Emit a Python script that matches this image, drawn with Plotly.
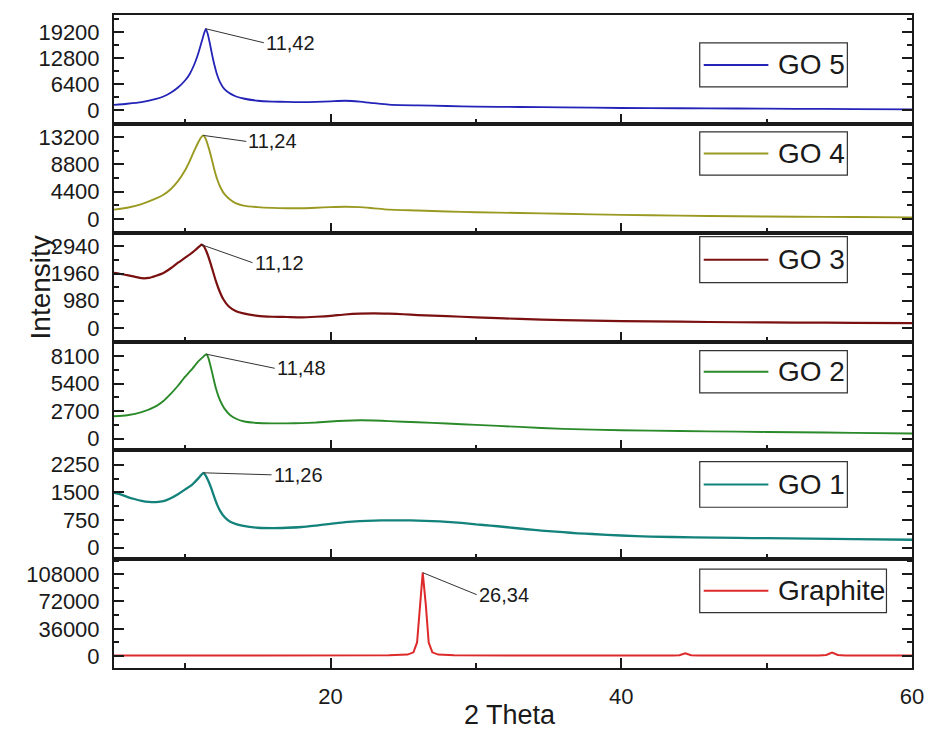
import plotly.graph_objects as go
from plotly.subplots import make_subplots

# ---- XRD patterns (2θ in degrees, intensity in counts) ----
go5_theta = [5.1, 6, 7, 8, 8.5, 9, 9.5, 10, 10.3, 10.6, 10.85, 11.1, 11.3, 11.42, 11.55, 11.7,
             11.85, 12.0, 12.2, 12.4, 12.7, 13.1, 13.5, 14, 15, 16, 17, 18, 19, 20, 21, 22, 23,
             24, 26, 28, 30, 33, 36, 40, 44, 48, 52, 56, 60]
go5_int = [1250, 1500, 1900, 2700, 3300, 4200, 5500, 7300, 8800, 11000, 13400, 16400, 18900,
           20000, 18700, 16300, 13600, 11200, 8600, 6800, 5100, 4000, 3300, 2800, 2250, 2050,
           1950, 1900, 1950, 2100, 2250, 2050, 1650, 1300, 1100, 950, 820, 700, 600, 460, 400,
           330, 260, 200, 120]

go4_theta = [5.1, 6, 7, 8, 8.5, 9, 9.5, 10, 10.3, 10.6, 10.9, 11.1, 11.24, 11.4, 11.6, 11.8,
             12.0, 12.2, 12.4, 12.7, 13.1, 13.5, 14, 15, 16, 17, 18, 19, 20, 21, 22, 23, 24, 26,
             28, 30, 33, 36, 40, 44, 48, 52, 56, 60]
go4_int = [1500, 1800, 2400, 3300, 3900, 4800, 6100, 7900, 9300, 10900, 12400, 13200, 13500,
           13000, 11600, 9900, 8000, 6400, 5200, 4000, 3100, 2500, 2150, 1900, 1780, 1730, 1730,
           1800, 1900, 1950, 1900, 1700, 1500, 1350, 1200, 1080, 950, 820, 650, 520, 420, 350,
           300, 250]

go3_theta = [5.1, 5.5, 6, 6.5, 7, 7.5, 8, 8.5, 9, 9.5, 10, 10.5, 10.8, 11.0, 11.12, 11.3, 11.5,
             11.7, 11.9, 12.1, 12.3, 12.6, 13.0, 13.5, 14, 15, 16, 17, 18, 19, 20, 21, 22, 23,
             24, 25, 26, 28, 30, 33, 36, 40, 44, 48, 52, 56, 60]
go3_int = [1980, 1950, 1900, 1850, 1790, 1800, 1880, 1980, 2150, 2350, 2530, 2720, 2860, 2950,
           3000, 2930, 2700, 2400, 2050, 1700, 1400, 1050, 770, 600, 520, 430, 400, 390, 380,
           400, 430, 480, 510, 520, 510, 490, 460, 420, 380, 320, 280, 240, 220, 200, 190, 180,
           170]

go2_theta = [5.1, 6, 7, 8, 8.5, 9, 9.5, 10, 10.5, 10.9, 11.2, 11.35, 11.48, 11.6, 11.75, 11.9,
             12.1, 12.3, 12.5, 12.7, 13.1, 13.5, 14, 15, 16, 17, 18, 19, 20, 21, 22, 23, 24, 26,
             28, 30, 33, 36, 40, 44, 48, 52, 56, 60]
go2_int = [2200, 2300, 2600, 3200, 3700, 4400, 5200, 6100, 6900, 7600, 8000, 8200, 8300, 7900,
           7100, 6200, 5000, 4100, 3450, 2950, 2300, 1950, 1700, 1530, 1500, 1500, 1520, 1580,
           1680, 1760, 1800, 1780, 1720, 1600, 1480, 1350, 1150, 950, 820, 740, 680, 620, 560,
           500]

go1_theta = [5.1, 5.5, 6, 6.5, 7, 7.5, 8, 8.5, 9, 9.5, 10, 10.5, 10.9, 11.1, 11.26, 11.4, 11.6,
             11.8, 12.0, 12.2, 12.4, 12.7, 13.1, 13.5, 14, 15, 16, 17, 18, 19, 20, 21, 22, 23,
             24, 25, 26, 27, 28, 29, 30, 31, 32, 33, 34, 35, 36, 37, 38, 40, 42, 45, 48, 50, 53,
             56, 60]
go1_int = [1490, 1450, 1380, 1320, 1270, 1240, 1235, 1260, 1340, 1450, 1580, 1720, 1880, 1970,
           2030, 1960, 1800, 1600, 1370, 1160, 1000, 830, 700, 640, 590, 540, 530, 540, 560, 600,
           645, 690, 720, 735, 740, 740, 735, 720, 700, 670, 630, 600, 560, 520, 480, 450, 420,
           390, 370, 330, 300, 280, 265, 258, 245, 230, 215]

gr_theta = [5.1, 10, 15, 20, 24, 25.3, 25.7, 25.95, 26.15, 26.34, 26.55, 26.75, 27.0, 27.4,
            28.5, 35, 43.5, 44.0, 44.4, 44.8, 45.3, 53.6, 54.1, 54.5, 54.9, 55.4, 60]
gr_int = [700, 700, 700, 750, 1000, 2000, 5000, 18000, 68000, 110000, 68000, 18000, 5000, 2000,
          1000, 700, 700, 1300, 3800, 1300, 700, 700, 1500, 4800, 1500, 700, 700]

# ---- panel settings, top to bottom ----
names = ["GO 5", "GO 4", "GO 3", "GO 2", "GO 1", "Graphite"]
thetas = [go5_theta, go4_theta, go3_theta, go2_theta, go1_theta, gr_theta]
intensities = [go5_int, go4_int, go3_int, go2_int, go1_int, gr_int]
colors = ["#2424b8", "#9a9a22", "#7a1010", "#2a8a2a", "#13827a", "#dd2a2a"]
line_widths = [1.8, 1.9, 2.2, 1.9, 2.3, 2.0]
smooth = [True, True, True, True, True, False]
y_ticks = [
    [0, 6400, 12800, 19200],
    [0, 4400, 8800, 13200],
    [0, 980, 1960, 2940],
    [0, 2700, 5400, 8100],
    [0, 750, 1500, 2250],
    [0, 36000, 72000, 108000],
]
y_ranges = [
    [-3450, 23400],
    [-2230, 15370],
    [-494, 3434],
    [-1160, 9560],
    [-312, 2640],
    [-15650, 127800],
]
x_ticks = [20, 40, 60]
x_range = [5.1, 60]

# peak label offsets (pixels from the peak to the label)
label_offsets = [(58, 14), (43, 6), (51, 18), (68, 14), (68, 2), (54, 22)]
# legend box: top / bottom as fraction of each panel's height, right edge in x-domain
legend_boxes = [(0.743, 0.339, 0.919), (0.926, 0.528, 0.919), (0.963, 0.541, 0.919),
                (0.917, 0.528, 0.919), (0.897, 0.477, 0.919), (0.909, 0.509, 0.968)]

FONT = "Arial, 'Liberation Sans', sans-serif"
INK = "#1a1a1a"

fig = make_subplots(rows=6, cols=1, shared_xaxes=True, vertical_spacing=0)

annotations = []
shapes = []
for i in range(6):
    row = i + 1
    sfx = "" if row == 1 else str(row)
    xs, ys = thetas[i], intensities[i]
    line = dict(color=colors[i], width=line_widths[i])
    if smooth[i]:
        line.update(shape="spline", smoothing=0.6)
    fig.add_trace(
        go.Scatter(x=xs, y=ys, mode="lines", name=names[i], showlegend=False, line=line),
        row=row, col=1,
    )

    step = y_ticks[i][1] - y_ticks[i][0]
    fig.update_yaxes(
        row=row, col=1, range=y_ranges[i], tickvals=y_ticks[i],
        ticktext=[str(v) for v in y_ticks[i]],
        ticks="inside", ticklen=10, tickwidth=1.5, tickcolor=INK,
        minor=dict(dtick=step / 2, tick0=0, ticks="inside", ticklen=5, tickwidth=1.5, tickcolor=INK),
        showline=True, linecolor=INK, linewidth=2, mirror="ticks",
        showgrid=False, zeroline=False, automargin=False,
        tickfont=dict(family=FONT, size=22, color=INK), ticklabelstandoff=8,
    )
    fig.update_xaxes(
        row=row, col=1, range=x_range, tickvals=x_ticks,
        ticktext=[str(v) for v in x_ticks],
        ticks="inside", ticklen=10, tickwidth=1.5, tickcolor=INK,
        minor=dict(dtick=10, tick0=0, ticks="inside", ticklen=5, tickwidth=1.5, tickcolor=INK),
        showline=True, linecolor=INK, linewidth=2, mirror=True,
        showgrid=False, zeroline=False, showticklabels=(row == 6), automargin=False,
        tickfont=dict(family=FONT, size=22, color=INK), ticklabelstandoff=8,
    )

    # peak label with leader line
    k = ys.index(max(ys))
    px, py = xs[k], ys[k]
    ax, ay = label_offsets[i]
    annotations.append(dict(
        x=px, y=py, xref="x" + sfx, yref="y" + sfx,
        text=f"{px:.2f}".replace(".", ","), showarrow=True, arrowhead=0,
        arrowwidth=1, arrowcolor="#333333", ax=ax, ay=ay, xanchor="left",
        font=dict(family=FONT, size=20, color=INK),
    ))

    # boxed legend entry for the panel
    top, bot, right = legend_boxes[i]
    xd, yd = f"x{sfx} domain", f"y{sfx} domain"
    shapes.append(dict(type="rect", xref=xd, yref=yd, x0=0.734, x1=right, y0=bot, y1=top,
                       line=dict(color="#333333", width=1.2), fillcolor="white", layer="above"))
    mid = (top + bot) / 2
    shapes.append(dict(type="line", xref=xd, yref=yd, x0=0.739, x1=0.820, y0=mid, y1=mid,
                       line=dict(color=colors[i], width=2), layer="above"))
    annotations.append(dict(
        x=0.829, y=mid, xref=xd, yref=yd, text=names[i], showarrow=False,
        xanchor="left", yanchor="middle", font=dict(family=FONT, size=28, color=INK),
    ))

# axis titles
annotations.append(dict(
    x=-0.1145, y=0.583, xref="paper", yref="paper", text="Intensity", textangle=-90,
    showarrow=False, font=dict(family=FONT, size=28, color=INK),
))
annotations.append(dict(
    x=0.496, y=-0.072, xref="paper", yref="paper", text="2 Theta", showarrow=False,
    yanchor="middle", font=dict(family=FONT, size=27, color=INK),
))

fig.update_layout(
    width=927, height=729,
    margin=dict(l=114, r=15, t=15, b=61),
    paper_bgcolor="white", plot_bgcolor="white",
    annotations=annotations, shapes=shapes,
    showlegend=False,
)

fig.write_html("out.html")
